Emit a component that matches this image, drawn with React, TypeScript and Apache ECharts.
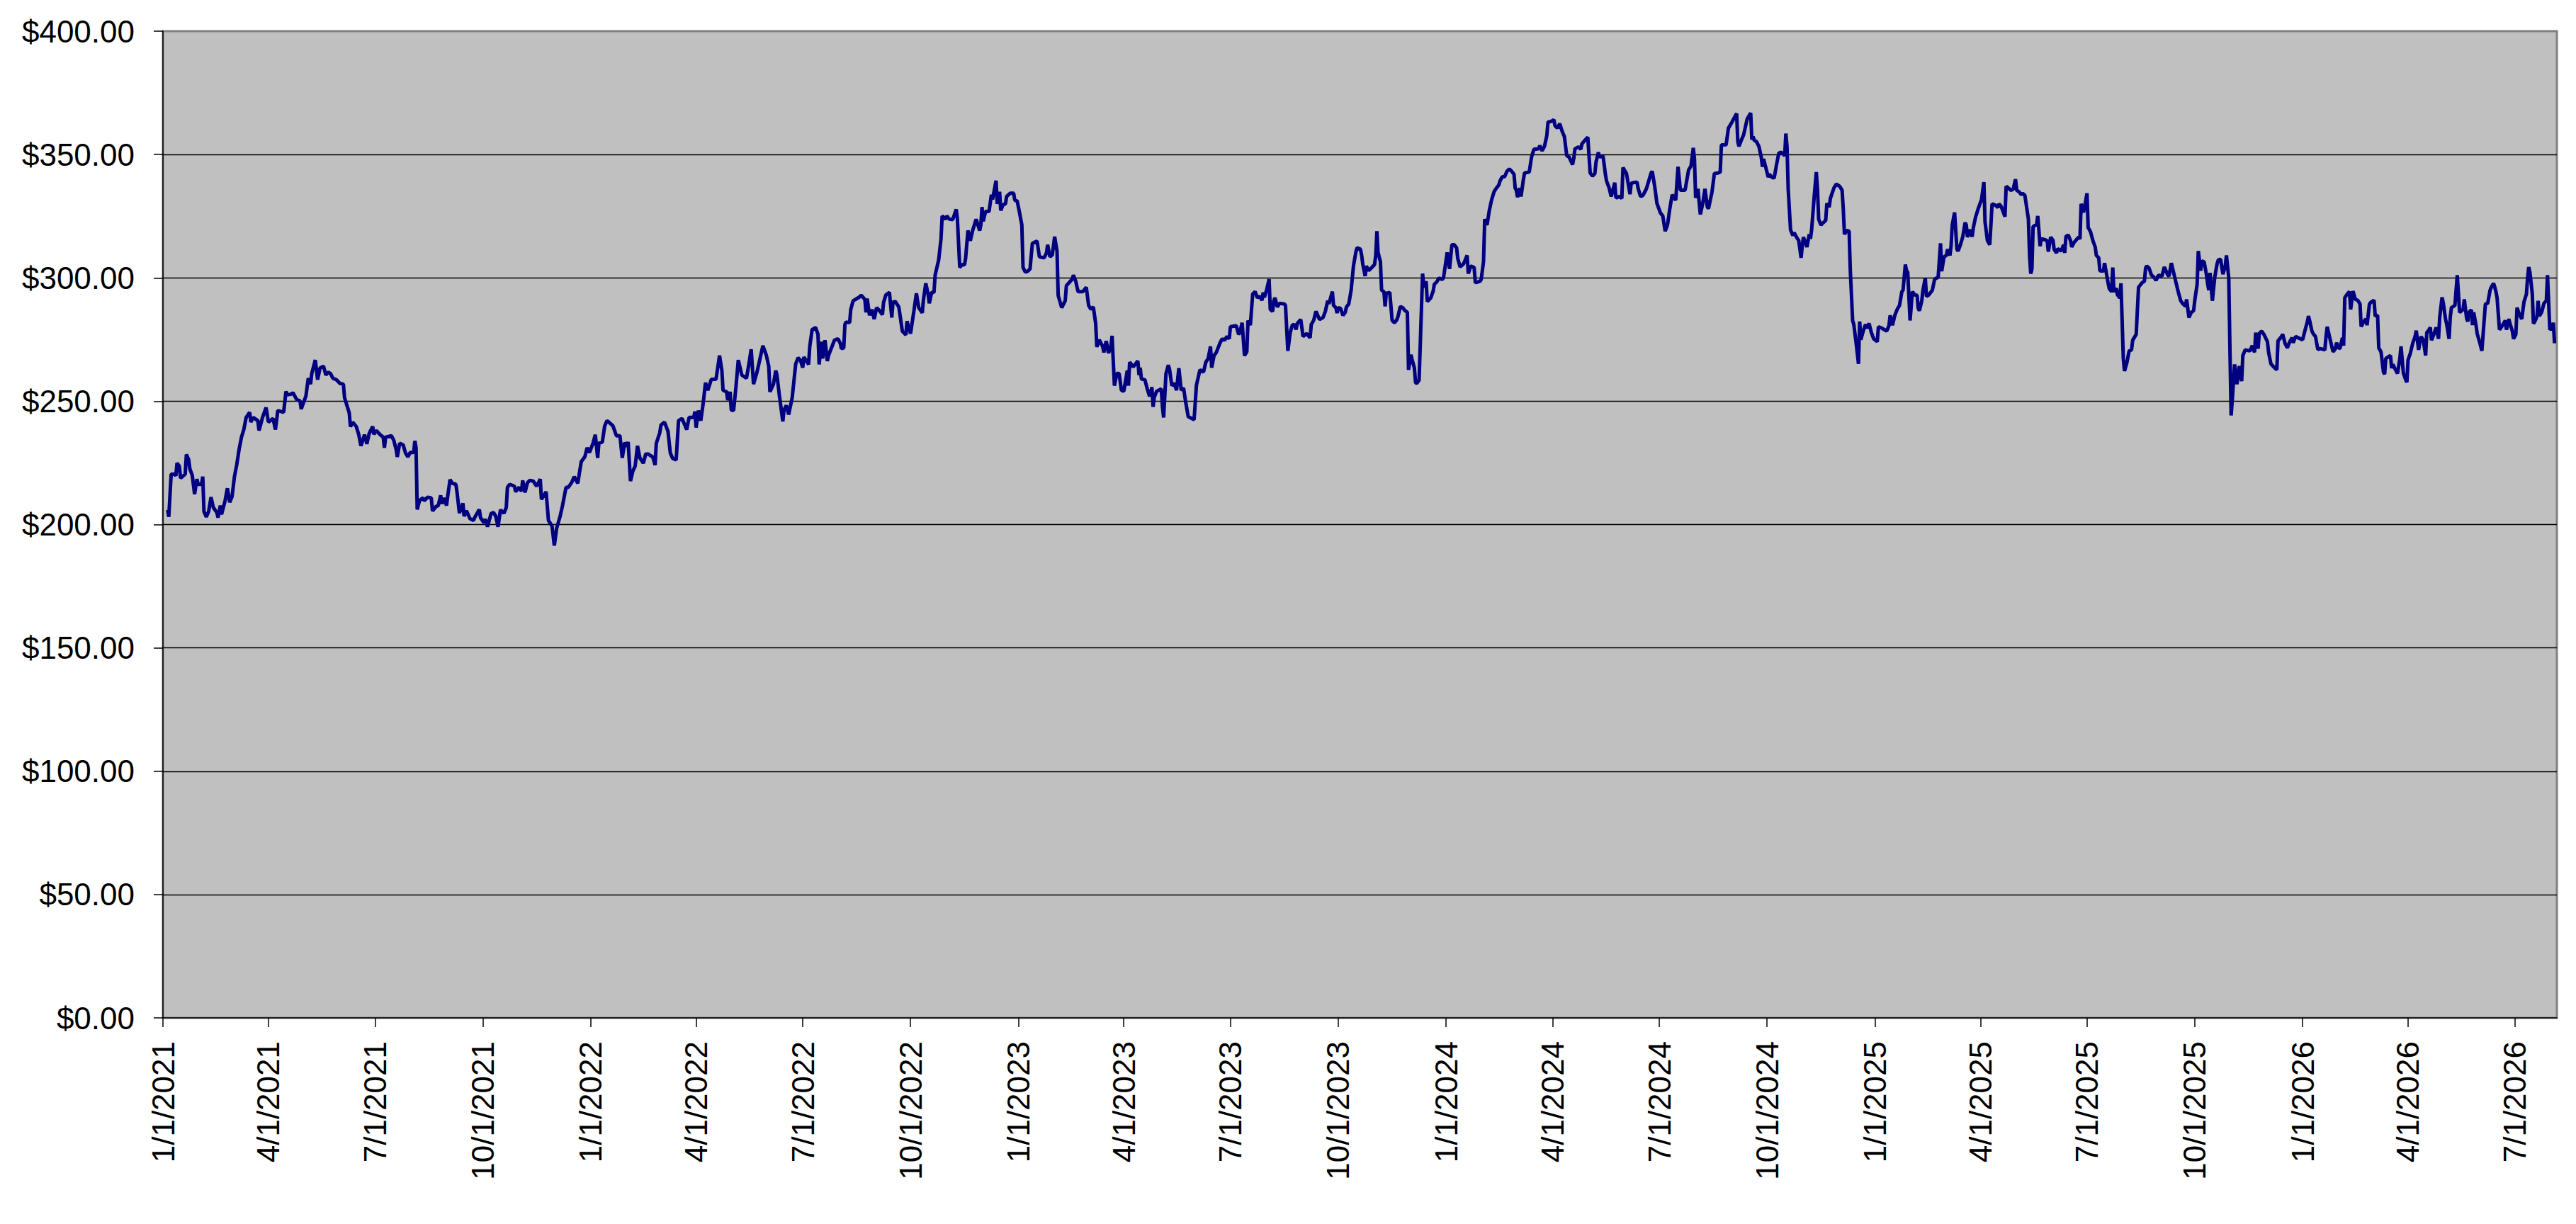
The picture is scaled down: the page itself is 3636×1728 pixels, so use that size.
import React, { useEffect, useRef } from "react";
import * as echarts from "echarts";

// Price points: [days since 1/1/2021, closing price in $]
const pts2021: [number, number][] = [
  [4,205.9],[5,203.1],[7,220.4],[10,220.4],[11,219.7],[12,224.9],[14,223.7],[15,218.8],[19,220.4],[20,228.4],
  [22,226.2],[23,222.5],[25,220.0],[27,212.3],[29,218.4],[30,216.3],[33,216.3],[34,219.4],[35,205.3],[37,203.1],
  [39,205.3],[41,211.1],[43,206.9],[46,204.9],[47,202.8],[49,207.7],[50,204.1],[53,209.6],[55,214.7],[57,209.0],
  [59,211.4],[61,219.4],[63,224.3],[65,230.5],[67,235.4],[69,238.5],[71,243.4],[74,245.5],[75,241.5],[77,243.4],
  [81,242.1],[82,238.1],[85,243.4],[88,247.4],[90,241.5],[94,243.0],[96,238.5],[98,246.2],[103,245.5],[105,254.0],
  [106,252.6],[109,252.8],[111,253.4],[114,250.7],[117,250.1],[118,246.8],[120,249.5],[122,252.0],[124,259.3],[126,256.9],
  [127,261.2],[130,266.7],[132,258.7],[134,263.4],[137,264.2],[139,260.6],[141,261.8],[143,261.2],[145,259.3],[148,258.7],
  [151,257.2],[154,256.9],[155,251.4],[159,245.2],[160,239.7],[162,241.5],[165,239.7],[167,236.6],[169,231.9],[172,236.4],
  [174,232.7],[176,236.9],[179,239.7],[180,236.6],[182,238.1],[185,236.6],[188,235.4],[189,231.1],[190,235.4],[195,236.0],
  [197,234.1],[199,230.5],[200,227.4],[202,232.9],[205,232.3],[207,229.0],[209,227.4],[211,229.2],[214,229.2],[215,233.9],
  [216,231.1],[217,206.1],[219,209.8],[222,210.8],[223,209.6],[226,211.1],[229,210.8],[230,205.5],[233,207.3],[235,207.7],
  [237,211.8],[238,208.4],[240,210.8],[242,207.7],[243,211.4],[245,218.2],[247,216.7],[250,216.3],[251,213.0],[253,204.6],
  [256,208.6],[257,203.4],[259,205.6],[262,202.4],[265,201.6],[266,202.8],[270,206.1],[271,202.8],[274,200.7],[275,202.2],
  [277,199.1],[280,204.4],[282,204.9],[284,203.4],[286,199.1],[288,205.9],[291,204.6],[293,206.9],[294,215.1],[296,216.3],
  [300,215.5],[301,213.3],[304,215.1],[306,213.5],[307,217.9],[309,213.0],[311,216.9],[313,217.9],[316,217.6],[319,215.5],
  [322,218.4],[323,210.2],[327,213.3],[329,201.6],[332,199.5],[334,191.5],[336,198.5],[339,203.4],[341,207.7],[344,215.1],
  [346,215.1],[349,217.2],[351,219.4],[354,216.7],[357,225.5],[360,227.4],[362,231.1],[364,229.2],[367,232.9],[369,236.4],
  [371,227.0],[372,232.9],[375,233.5],[377,240.0],[379,242.1],[381,241.3],[384,240.0],[387,236.0],[390,236.0],[392,227.0],
  [394,233.2],[396,231.7],[397,233.5],[399,217.6],[401,221.6],[403,223.7],[405,231.9],[407,227.0],[410,224.9],[412,228.6],
  [414,228.6],[418,227.4],[420,224.1],[421,232.9],[424,237.2],[425,240.3],[428,241.5],[431,237.8],[433,229.0],[435,226.8],
  [438,226.2],[440,242.1],[443,243.0],[447,238.5],[449,243.4],[453,243.4],[454,245.8],[455,239.3],[457,246.2],[459,242.1],
  [461,248.9],[463,257.5],[465,254.4],[468,258.9],[472,258.9],[475,268.5],[477,262.4],[478,254.4],[481,253.8],[482,250.4],
  [484,253.8],[485,246.4],[487,246.2],[489,255.7],[491,266.7],[494,260.6],[498,259.3],[500,264.9],[502,271.0],[504,256.9],
  [507,261.8],
];

const pts2022: [number, number][] = [
  [512,272.5],[515,268.5],[517,264.2],[518,253.8],[521,256.9],[523,262.4],[524,260.6],[526,252.6],[529,241.8],[530,246.4],
  [532,248.3],[534,244.6],[537,251.4],[540,265.1],[542,267.6],[544,266.7],[546,263.6],[547,267.9],[551,264.9],[552,272.2],
  [554,279.0],[557,279.9],[559,277.1],[560,264.9],[562,274.1],[563,267.3],[565,274.7],[567,266.3],[568,268.5],[571,272.2],
  [573,274.7],[576,275.3],[578,273.5],[579,271.3],[581,271.6],[582,281.1],[583,282.1],[586,281.8],[587,287.2],[589,290.7],
  [594,292.1],[596,292.9],[599,291.3],[600,286.0],[601,291.6],[603,284.8],[605,287.2],[607,283.3],[609,287.9],[611,287.0],
  [614,285.1],[615,290.1],[617,293.1],[620,294.1],[622,283.9],[623,290.1],[625,290.4],[628,288.2],[631,278.4],[634,276.9],
  [635,282.4],[638,277.4],[641,287.0],[643,293.7],[645,287.9],[648,285.8],[649,291.0],[651,297.8],[653,293.4],[654,289.7],
  [656,294.1],[658,294.1],[659,301.1],[662,307.2],[664,315.8],[665,325.1],[668,323.8],[669,325.1],[671,323.8],[674,323.6],
  [677,327.8],[678,323.8],[680,304.2],[682,305.4],[684,305.2],[685,307.9],[687,319.2],[689,315.0],[691,319.2],[694,323.8],
  [697,319.2],[698,321.4],[699,328.7],[700,322.9],[702,326.9],[705,326.9],[707,333.7],[708,331.8],[711,339.4],[712,330.0],
  [714,334.9],[715,327.3],[717,329.7],[719,330.0],[720,333.0],[723,334.3],[726,334.3],[727,331.4],[729,331.2],[731,326.5],
  [733,321.4],[734,304.2],[736,302.3],[738,302.7],[740,303.6],[741,309.1],[742,314.0],[746,314.9],[748,308.5],[752,308.1],
  [754,310.1],[755,313.4],[757,308.5],[759,309.3],[761,316.7],[763,310.9],[764,292.9],[767,287.9],[770,290.7],[771,296.8],
  [776,299.5],[777,301.1],[779,298.6],[781,294.4],[785,294.4],[788,296.2],[790,288.8],[792,287.2],[794,288.2],[796,281.5],
  [797,272.0],[799,274.9],[802,272.2],[803,269.8],[805,274.4],[807,269.5],[809,272.2],[810,276.5],[812,256.3],[814,261.2],
  [816,261.2],[818,254.4],[820,254.0],[823,262.4],[824,256.3],[825,265.8],[828,263.9],[832,266.3],[833,260.6],[834,263.6],
  [835,259.0],[838,258.7],[840,255.0],[842,252.0],[844,255.7],[845,247.7],[846,251.6],[848,254.0],[852,255.0],[853,247.7],
  [854,243.4],[856,261.2],[858,264.6],[859,263.0],[861,256.3],[863,257.3],[865,254.4],[867,263.4],[869,254.4],[871,255.3],
  [873,249.1],[875,243.7],[878,243.0],[880,242.5],[882,256.5],[885,262.7],[888,261.8],[890,265.8],[892,267.3],[894,272.2],
  [895,263.6],[897,268.5],[899,269.8],[902,273.5],[904,275.3],[906,274.7],[908,276.2],[910,275.3],[911,280.2],[916,280.6],
  [918,277.1],[919,277.8],[921,281.8],[923,268.5],[925,270.0],[926,282.7],[928,280.8],[930,293.4],[932,294.4],[934,291.9],
  [936,292.5],[938,290.9],[939,294.1],[940,292.1],[942,295.3],[944,299.5],[945,287.2],[947,286.4],[948,290.7],[949,291.9],
  [951,288.2],[953,289.7],[957,289.4],[958,288.8],[960,270.4],[962,277.8],[964,281.1],[966,280.8],[967,279.0],[968,281.5],
  [971,283.1],[973,276.2],[976,277.4],[979,275.7],[980,281.1],[982,282.7],[984,286.4],[987,283.1],[990,283.9],[992,286.4],
  [994,290.7],[995,289.4],[998,294.4],[999,288.8],[1001,287.9],[1002,285.7],[1003,287.9],[1005,287.6],[1007,284.8],[1009,286.0],
  [1010,288.2],[1012,289.4],[1014,295.0],[1016,304.8],[1018,310.3],[1019,312.2],[1022,311.6],
];

const pts2023: [number, number][] = [
  [1023,309.1],[1024,305.4],[1026,300.7],[1027,304.8],[1029,302.9],[1032,304.4],[1034,305.4],[1035,309.1],[1036,318.9],[1037,310.3],
  [1039,306.6],[1040,295.0],[1042,294.4],[1043,288.4],[1044,293.7],[1047,294.1],[1049,282.7],[1051,281.8],[1053,283.0],[1054,284.3],
  [1056,288.4],[1058,287.9],[1060,286.7],[1062,286.0],[1063,262.7],[1065,268.8],[1068,263.4],[1069,257.5],[1070,257.2],[1072,258.5],
  [1075,301.7],[1076,296.2],[1078,298.6],[1079,290.4],[1082,291.9],[1084,294.6],[1085,297.4],[1087,298.3],[1089,299.9],[1092,299.3],
  [1093,300.5],[1096,310.3],[1098,303.6],[1100,313.4],[1102,313.4],[1104,312.2],[1105,307.9],[1107,304.4],[1110,305.7],[1113,309.1],
  [1114,301.7],[1116,304.8],[1119,304.2],[1120,298.0],[1124,298.6],[1125,299.3],[1127,306.6],[1128,323.8],[1130,321.4],[1132,327.5],
  [1134,331.8],[1136,334.9],[1138,336.4],[1140,337.6],[1141,339.2],[1143,341.0],[1145,341.0],[1147,343.2],[1149,344.1],[1151,343.2],
  [1153,342.0],[1154,336.4],[1155,335.5],[1156,332.7],[1158,336.4],[1159,333.0],[1161,339.8],[1162,342.5],[1166,342.9],[1168,349.0],
  [1170,352.1],[1174,352.3],[1175,353.6],[1177,351.5],[1179,353.3],[1181,357.6],[1182,363.1],[1185,363.5],[1187,364.1],[1188,361.7],
  [1190,360.7],[1192,362.5],[1194,359.5],[1196,357.3],[1198,349.6],[1200,349.0],[1203,345.9],[1204,348.4],[1205,352.3],[1208,353.1],
  [1210,352.1],[1211,354.3],[1213,355.5],[1216,357.0],[1218,342.5],[1220,341.3],[1222,342.3],[1223,346.9],[1225,350.9],[1226,349.0],
  [1229,349.4],[1231,342.0],[1232,339.2],[1234,336.7],[1236,333.0],[1239,338.6],[1240,332.4],[1243,333.0],[1245,332.2],[1246,344.7],
  [1249,342.3],[1252,333.9],[1253,338.3],[1255,338.6],[1258,338.8],[1259,336.1],[1261,333.0],[1263,333.4],[1266,336.1],[1270,342.5],
  [1271,343.2],[1273,337.3],[1275,330.2],[1278,326.3],[1280,325.1],[1282,318.9],[1284,321.4],[1286,328.1],[1288,333.7],[1291,331.5],
  [1293,345.0],[1295,335.5],[1299,335.5],[1301,341.0],[1302,343.7],[1304,345.3],[1306,352.7],[1307,348.4],[1308,332.4],[1310,336.1],
  [1312,325.7],[1314,330.0],[1316,336.1],[1318,328.7],[1319,328.1],[1322,334.9],[1324,342.3],[1327,342.5],[1329,342.9],[1330,353.9],
  [1334,353.9],[1336,360.7],[1339,363.1],[1343,366.6],[1344,355.2],[1345,353.3],[1347,355.8],[1349,358.0],[1352,364.4],[1355,366.8],
  [1356,356.0],[1357,357.3],[1358,355.8],[1360,355.2],[1362,353.3],[1364,349.0],[1365,345.0],[1366,348.2],[1370,340.8],[1371,342.0],
  [1373,340.8],[1375,340.4],[1377,345.7],[1379,350.6],[1381,350.9],[1383,350.2],[1384,349.4],[1385,358.5],[1386,353.3],[1387,336.1],
  [1389,319.5],[1391,317.1],[1392,318.3],[1395,315.8],[1396,315.2],[1398,308.1],[1399,312.8],[1400,316.5],[1402,314.0],[1403,312.5],
  [1405,317.7],[1406,315.8],[1407,319.5],[1409,331.8],[1411,342.9],[1412,336.1],[1413,323.8],[1415,321.4],[1416,322.0],[1419,323.2],
  [1420,330.2],[1422,328.7],[1423,332.2],[1426,336.4],[1428,338.0],[1431,337.1],[1433,335.5],[1434,328.1],[1435,317.7],[1437,319.2],
  [1439,318.9],[1440,303.2],[1442,282.7],[1443,281.1],[1445,273.5],[1447,265.1],[1448,282.3],[1449,274.9],[1451,278.4],[1453,281.1],
  [1454,279.6],[1456,281.5],[1458,277.8],[1460,275.3],[1461,274.9],[1463,274.1],[1464,280.2],[1467,279.6],[1469,279.0],[1471,278.4],
  [1473,280.6],[1474,284.8],[1476,280.8],[1478,284.8],[1480,287.2],[1482,288.8],[1484,294.4],[1485,295.0],[1487,305.4],[1488,302.9],
  [1489,302.3],[1491,282.7],[1493,294.4],[1495,293.1],[1497,292.9],[1498,287.6],[1499,286.7],[1501,290.7],[1502,295.0],[1504,299.9],
  [1505,292.5],[1507,293.1],[1510,295.0],[1512,299.5],[1515,300.3],[1517,314.0],[1518,302.7],[1520,308.5],[1522,309.1],[1523,311.6],
  [1525,309.1],[1526,312.8],[1527,321.4],[1529,326.5],[1531,311.6],[1532,310.9],
];

const pts2025: [number, number][] = [
  [1534,313.4],[1536,316.7],[1538,322.4],[1539,321.4],[1540,316.5],[1542,319.5],[1544,316.7],[1545,320.4],[1547,324.8],[1549,327.8],
  [1552,331.8],[1554,338.8],[1555,322.6],[1556,318.9],[1557,315.2],[1559,313.4],[1560,321.4],[1561,330.0],[1564,329.4],[1566,328.5],
  [1567,330.0],[1569,328.7],[1572,324.8],[1573,337.1],[1575,336.4],[1577,335.5],[1579,335.9],[1581,340.0],[1582,335.5],[1584,334.9],
  [1586,333.7],[1587,334.3],[1589,333.4],[1592,323.8],[1593,309.1],[1594,301.7],[1595,303.6],[1596,320.8],[1599,321.6],[1600,325.1],
  [1602,312.8],[1603,315.8],[1606,315.5],[1608,315.0],[1609,310.6],[1611,316.5],[1613,315.2],[1614,311.5],[1616,310.1],[1617,311.8],
  [1620,310.9],[1622,313.4],[1623,310.1],[1624,316.7],[1626,317.4],[1628,315.0],[1629,312.5],[1631,314.4],[1633,315.5],[1635,316.5],
  [1636,315.7],[1637,330.0],[1639,326.5],[1640,328.7],[1642,334.3],[1643,320.4],[1645,318.7],[1647,315.2],[1649,312.5],[1650,309.1],
  [1652,308.1],[1653,302.9],[1656,302.7],[1657,306.0],[1660,298.0],[1661,295.6],[1663,294.4],[1664,304.2],[1665,294.4],[1667,295.8],
  [1668,293.1],[1670,291.9],[1671,297.8],[1673,267.3],[1674,262.2],[1676,265.5],[1678,270.4],[1680,270.8],[1681,274.7],[1684,277.1],
  [1685,287.0],[1686,296.2],[1689,298.0],[1691,298.6],[1692,303.9],[1693,304.8],[1695,303.9],[1697,301.1],[1699,300.3],[1701,299.0],
  [1703,301.1],[1706,300.7],[1708,304.4],[1711,301.1],[1712,300.7],[1714,306.0],[1716,302.0],[1718,298.0],[1720,294.1],[1722,290.7],
  [1724,289.4],[1726,288.5],[1727,291.3],[1729,283.9],[1731,286.0],[1733,286.7],[1734,290.9],[1736,297.4],[1737,310.9],[1739,302.9],
  [1740,306.9],[1742,306.4],[1744,301.1],[1745,297.4],[1746,295.0],[1747,302.0],[1749,290.7],[1751,300.2],[1753,305.6],[1754,307.2],
  [1756,307.6],[1758,301.5],[1760,304.8],[1761,309.1],[1763,299.9],[1764,271.0],[1765,244.2],[1766,250.7],[1768,264.9],[1770,256.9],
  [1772,264.2],[1774,258.1],[1775,268.5],[1777,270.8],[1781,270.4],[1782,271.3],[1783,272.5],[1785,269.8],[1786,277.8],[1788,271.3],
  [1789,277.4],[1791,278.4],[1793,277.1],[1796,274.1],[1797,269.8],[1799,265.1],[1802,263.6],[1804,262.7],[1805,274.4],[1808,276.2],
  [1809,277.1],[1811,273.5],[1813,271.6],[1815,274.1],[1817,275.7],[1818,273.7],[1820,276.2],[1826,274.9],[1828,278.6],[1830,282.1],
  [1831,284.5],[1832,282.7],[1834,278.4],[1835,277.4],[1837,276.2],[1839,271.0],[1841,271.3],[1845,270.8],[1846,276.2],[1847,280.2],
  [1852,270.0],[1854,271.3],[1855,273.7],[1857,271.3],[1858,271.6],[1860,275.7],[1861,272.5],[1862,291.9],[1864,293.4],[1866,294.4],
  [1867,287.2],[1869,294.6],[1871,291.3],[1873,290.9],[1875,289.4],[1876,280.2],[1878,282.1],[1880,283.3],[1881,280.8],[1883,289.2],
  [1884,290.0],[1887,290.9],[1888,284.5],[1890,284.8],[1891,271.6],[1892,270.8],[1893,269.8],[1895,261.8],[1896,260.9],[1897,267.3],
  [1901,268.5],[1902,263.4],[1903,264.9],[1905,263.0],[1907,261.2],[1909,267.3],[1910,272.2],[1912,261.4],[1914,258.7],[1915,257.7],
  [1916,266.7],[1918,269.5],[1920,273.5],[1922,276.2],[1923,278.6],[1925,270.8],[1927,276.2],[1929,274.9],[1931,268.5],[1932,277.8],
  [1934,279.0],[1935,279.9],[1936,274.7],[1938,277.1],[1940,279.9],[1942,275.3],[1943,283.9],[1945,292.1],[1946,290.0],[1948,283.3],
  [1949,281.1],[1951,275.3],[1952,283.9],[1953,287.9],[1956,288.8],[1958,301.1],[1960,286.0],[1963,287.2],[1964,291.3],[1966,283.5],
  [1967,282.3],[1968,286.0],[1970,287.0],[1971,280.8],[1972,286.0],[1974,280.8],[1975,277.4],[1977,274.1],[1979,270.4],[1981,283.1],
  [1982,289.4],[1984,289.7],[1986,295.0],[1987,296.2],[1989,297.8],[1990,296.2],[1991,294.4],[1992,291.9],[1994,279.0],[1995,279.6],
  [1997,281.1],[1999,282.7],[2000,279.0],[2002,283.3],[2003,281.5],[2005,278.4],[2006,275.3],[2008,277.1],[2009,287.9],[2011,285.1],
  [2013,283.3],[2015,290.4],[2017,293.4],[2018,299.9],[2019,304.4],[2020,302.3],[2022,293.7],[2023,281.5],[2024,282.1],[2026,284.3],
  [2027,290.7],[2028,284.5],[2030,286.0],[2032,289.7],[2034,290.7],[2035,301.1],[2036,290.0],[2037,279.0],[2039,279.6],[2040,281.8],
  [2041,273.5],
];

// Quarterly date ticks on the x axis
const tickDates = [
  "2021-01-01","2021-04-01","2021-07-01","2021-10-01",
  "2022-01-01","2022-04-01","2022-07-01","2022-10-01",
  "2023-01-01","2023-04-01","2023-07-01","2023-10-01",
  "2024-01-01","2024-04-01","2024-07-01","2024-10-01",
  "2025-01-01","2025-04-01","2025-07-01","2025-10-01",
  "2026-01-01","2026-04-01","2026-07-01",
];

const startDate = "2021-01-01";
const endDate = "2026-08-06";
const yMin = 0;
const yMax = 400;
const yStep = 50;

const DAY = 86400000;
const toUTC = (s: string) => {
  const [y, m, d] = s.split("-").map(Number);
  return Date.UTC(y, m - 1, d);
};

export default function App() {
  const ref = useRef<HTMLDivElement>(null);

  useEffect(() => {
    document.body.style.margin = "0";
    if (!ref.current) return;
    const chart = echarts.init(ref.current, undefined, { renderer: "svg" });
    const t0 = toUTC(startDate);
    const all = [...pts2021, ...pts2022, ...pts2023, ...pts2025];
    const data = all.map(([d, p]) => [t0 + d * DAY, p]);
    const ticks = tickDates.map(toUTC);
    const font = "'Liberation Sans', Arial, Helvetica, sans-serif";

    chart.setOption({
      animation: false,
      backgroundColor: "#ffffff",
      grid: {
        left: 230,
        right: 27,
        top: 44,
        bottom: 291,
        show: true,
        backgroundColor: "#C0C0C0",
        borderColor: "#808080",
        borderWidth: 3,
        containLabel: false,
        outerBoundsMode: "none",
      },
      xAxis: {
        type: "value",
        min: t0,
        max: toUTC(endDate),
        scale: true,
        axisLine: { show: true, onZero: false, lineStyle: { color: "#000", width: 1.5 } },
        axisTick: {
          show: true,
          length: 13,
          customValues: ticks,
          lineStyle: { color: "#000", width: 1.5 },
        },
        axisLabel: {
          show: true,
          rotate: 90,
          margin: 33,
          customValues: ticks,
          color: "#000",
          fontSize: 44,
          fontFamily: font,
          formatter: (v: number) => {
            const dt = new Date(v);
            return `${dt.getUTCMonth() + 1}/${dt.getUTCDate()}/${dt.getUTCFullYear()}`;
          },
        },
        splitLine: { show: false },
      },
      yAxis: {
        type: "value",
        min: yMin,
        max: yMax,
        interval: yStep,
        axisLine: { show: true, lineStyle: { color: "#000", width: 1.5 } },
        axisTick: { show: true, length: 13, lineStyle: { color: "#000", width: 1.5 } },
        axisLabel: {
          margin: 40,
          color: "#000",
          fontSize: 44,
          fontFamily: font,
          formatter: (v: number) => "$" + v.toFixed(2),
        },
        splitLine: {
          show: true,
          showMinLine: false,
          showMaxLine: false,
          lineStyle: { color: "#000", width: 1.3 },
        },
      },
      series: [
        {
          type: "line",
          data,
          showSymbol: false,
          symbol: "none",
          clip: true,
          lineStyle: { color: "#000080", width: 5 },
          itemStyle: { color: "#000080" },
        },
      ],
    });

    return () => chart.dispose();
  }, []);

  return (
    <div
      ref={ref}
      style={{ position: "absolute", left: 0, top: 0, width: 3636, height: 1728 }}
    />
  );
}
